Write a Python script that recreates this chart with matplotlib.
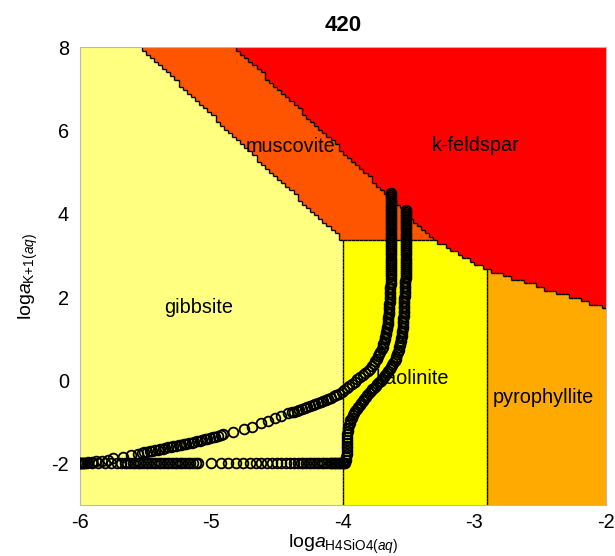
import numpy as np
import matplotlib
matplotlib.use("Agg")
import matplotlib.pyplot as plt
from matplotlib.path import Path
from matplotlib.colors import ListedColormap
from matplotlib.collections import LineCollection

plt.rcParams['font.family'] = ['Liberation Sans', 'DejaVu Sans']
plt.rcParams['mathtext.fontset'] = 'custom'
plt.rcParams['mathtext.rm'] = 'Liberation Sans'
plt.rcParams['mathtext.it'] = 'Liberation Sans:italic'
plt.rcParams['axes.unicode_minus'] = False

# ---------------- data ----------------
title = "420"
x_ticks = [-6, -5, -4, -3, -2]
y_ticks = [-2, 0, 2, 4, 6, 8]
x_range = [-6, -2]
y_range = [-3, 8]

minerals = ["gibbsite", "muscovite", "k-feldspar", "kaolinite", "pyrophyllite"]
mineral_colors = ["#FFFF80", "#FF5500", "#FF0000", "#FFFF00", "#FFAA00"]
# stability field outlines (vertices)
gibbsite_poly = [(-6, -3), (-4.0, -3), (-4.0, 3.35), (-5.535, 8), (-6, 8)]
muscovite_poly = [(-5.535, 8), (-4.817, 8), (-3.3, 3.35), (-4.0, 3.35)]
kfeldspar_poly = [(-4.817, 8), (-2, 8), (-2, 1.74), (-2.92, 2.67), (-3.3, 3.35)]
kaolinite_poly = [(-4.0, -3), (-2.92, -3), (-2.92, 2.67), (-3.3, 3.35), (-4.0, 3.35)]
pyrophyllite_poly = [(-2.92, -3), (-2, -3), (-2, 1.74), (-2.92, 2.67)]
label_x = [-5.095, -4.40, -2.99, -3.47, -2.475]
label_y = [1.75, 5.63, 5.65, 0.04, -0.42]

# path A (lower path): flat part at constant log aK
pathA_flat_level = -1.98
pathA_flat_x = [-6.00, -5.99, -5.98, -5.97, -5.95, -5.91, -5.86, -5.81, -5.76, -5.72,
                -5.69, -5.66, -5.64, -5.62, -5.60, -5.58, -5.56, -5.54, -5.52, -5.50,
                -5.48, -5.46, -5.44, -5.42, -5.40, -5.38, -5.36, -5.34, -5.32, -5.30,
                -5.28, -5.26, -5.24, -5.22, -5.20, -5.18, -5.16, -5.14, -5.12, -5.10,
                -5.00, -4.93, -4.87, -4.81, -4.76, -4.71, -4.66, -4.62, -4.58, -4.54,
                -4.50, -4.47, -4.43, -4.40, -4.37, -4.34, -4.32, -4.30, -4.28, -4.26,
                -4.24, -4.22, -4.20, -4.18, -4.16, -4.14, -4.12, -4.10, -4.09, -4.08,
                -4.07, -4.06, -4.05, -4.04, -4.03, -4.02, -4.01, -4.00, -3.99, -3.98]
pathA_rise_x = [-3.975, -3.973, -3.972, -3.971, -3.970, -3.969, -3.968, -3.967, -3.966, -3.965,
                -3.962, -3.958, -3.954, -3.949, -3.942, -3.934, -3.925, -3.915, -3.905, -3.894,
                -3.883, -3.872, -3.861, -3.850, -3.838, -3.826, -3.814, -3.801, -3.789, -3.776,
                -3.763, -3.750, -3.738, -3.725, -3.712, -3.700, -3.688, -3.676, -3.665, -3.654,
                -3.643, -3.633, -3.624, -3.615, -3.607, -3.599, -3.592, -3.586, -3.580, -3.575,
                -3.570, -3.566, -3.562, -3.558, -3.555, -3.552, -3.549, -3.547, -3.545, -3.543,
                -3.541, -3.540, -3.539, -3.538, -3.537, -3.536, -3.535, -3.534, -3.534, -3.533,
                -3.532, -3.531, -3.530, -3.529, -3.528, -3.528, -3.527, -3.526]
pathA_rise_y = [-1.92, -1.85, -1.78, -1.71, -1.64, -1.57, -1.50, -1.43, -1.36, -1.29,
                -1.22, -1.15, -1.08, -1.02, -0.96, -0.90, -0.84, -0.79, -0.74, -0.69,
                -0.64, -0.59, -0.54, -0.49, -0.44, -0.40, -0.35, -0.31, -0.26, -0.22,
                -0.18, -0.13, -0.09, -0.05, -0.01, 0.03, 0.08, 0.12, 0.17, 0.22,
                0.27, 0.32, 0.37, 0.42, 0.47, 0.52, 0.57, 0.63, 0.68, 0.73,
                0.79, 0.84, 0.90, 0.95, 1.01, 1.07, 1.13, 1.19, 1.25, 1.31,
                1.37, 1.43, 1.49, 1.55, 1.61, 1.67, 1.73, 1.79, 1.85, 1.91,
                1.97, 2.03, 2.09, 2.15, 2.21, 2.27, 2.33, 2.39]
pathA_column_x = -3.522
pathA_column_y = [2.45, 2.50, 2.55, 2.60, 2.65, 2.70, 2.75, 2.80, 2.85, 2.90,
                  2.95, 3.00, 3.05, 3.10, 3.15, 3.20, 3.25, 3.30, 3.35, 3.40,
                  3.45, 3.50, 3.55, 3.60, 3.65, 3.70, 3.75, 3.80, 3.85, 3.90,
                  3.95, 4.00, 4.05, 4.10]

# path B (upper path)
pathB_x = [-6.00, -5.99, -5.98, -5.96, -5.94, -5.91, -5.875, -5.835, -5.79, -5.747,
           -5.676, -5.615, -5.557,
           -5.53, -5.51, -5.49, -5.47, -5.45, -5.43, -5.41, -5.39, -5.37, -5.35,
           -5.33, -5.31, -5.29, -5.27, -5.25, -5.23, -5.21, -5.19, -5.17, -5.15,
           -5.13, -5.11, -5.09, -5.07, -5.05, -5.03, -5.01, -4.99, -4.97, -4.95,
           -4.93, -4.91,
           -4.836, -4.755, -4.689, -4.626, -4.571, -4.520, -4.469, -4.419,
           -4.39, -4.37, -4.35, -4.33, -4.31, -4.29, -4.27, -4.25, -4.23, -4.21,
           -4.19, -4.17, -4.15, -4.13, -4.11, -4.09, -4.07, -4.05, -4.03, -4.01,
           -3.99, -3.97, -3.95, -3.93, -3.91, -3.89, -3.87, -3.85, -3.83, -3.81,
           -3.795, -3.78, -3.765, -3.752, -3.742, -3.733, -3.724, -3.715, -3.706, -3.698,
           -3.691, -3.685, -3.680, -3.676, -3.672, -3.669, -3.666, -3.663, -3.660, -3.658,
           -3.656, -3.654, -3.652, -3.650, -3.649, -3.648, -3.646, -3.645, -3.644, -3.643,
           -3.641, -3.640, -3.639, -3.638, -3.637, -3.636, -3.635]
pathB_y = [-1.99, -1.99, -1.985, -1.98, -1.97, -1.96, -1.95, -1.935, -1.91, -1.88,
           -1.84, -1.805, -1.77,
           -1.745, -1.733, -1.720, -1.707, -1.694, -1.681, -1.668, -1.655, -1.642, -1.629,
           -1.616, -1.603, -1.590, -1.577, -1.564, -1.551, -1.538, -1.525, -1.512, -1.499,
           -1.486, -1.470, -1.455, -1.440, -1.424, -1.407, -1.390, -1.372, -1.354, -1.335,
           -1.316, -1.297,
           -1.24, -1.18, -1.12, -1.04, -0.98, -0.92, -0.86, -0.80,
           -0.775, -0.755, -0.738, -0.720, -0.698, -0.675, -0.652, -0.628, -0.605, -0.582,
           -0.556, -0.530, -0.503, -0.476, -0.449, -0.420, -0.390, -0.357, -0.32, -0.28,
           -0.235, -0.19, -0.14, -0.09, -0.04, 0.02, 0.07, 0.12, 0.17, 0.22,
           0.28, 0.34, 0.40, 0.46, 0.52, 0.58, 0.64, 0.69, 0.75, 0.81,
           0.87, 0.93, 0.99, 1.05, 1.11, 1.17, 1.23, 1.29, 1.35, 1.41,
           1.47, 1.53, 1.59, 1.65, 1.71, 1.77, 1.83, 1.89, 1.95, 2.01,
           2.07, 2.13, 2.19, 2.25, 2.31, 2.37, 2.43]
pathB_column_x = -3.634
pathB_column_y = [2.50, 2.55, 2.60, 2.65, 2.70, 2.75, 2.80, 2.85, 2.90, 2.95,
                  3.00, 3.05, 3.10, 3.15, 3.20, 3.25, 3.30, 3.35, 3.40, 3.45,
                  3.50, 3.55, 3.60, 3.65, 3.70, 3.75, 3.80, 3.85, 3.90, 3.95,
                  4.00, 4.05, 4.10, 4.15, 4.20, 4.25, 4.30, 4.35, 4.40, 4.45,
                  4.50]

# ---------------- figure ----------------
fig = plt.figure(figsize=(6.15, 5.56), dpi=100)
ax = fig.add_axes([0.130, 0.0917, 0.855, 0.823])

# rasterised stability fields (grid like the original solver output)
nx, ny = 128, 128
xe = np.linspace(x_range[0], x_range[1], nx + 1)
ye = np.linspace(y_range[0], y_range[1], ny + 1)
xc = 0.5 * (xe[:-1] + xe[1:])
yc = 0.5 * (ye[:-1] + ye[1:])
XX, YY = np.meshgrid(xc, yc)
pts = np.column_stack([XX.ravel(), YY.ravel()])
labels = np.full(XX.size, 2)
for k, poly in enumerate([gibbsite_poly, muscovite_poly, kfeldspar_poly,
                          kaolinite_poly, pyrophyllite_poly]):
    if k == 2:
        continue
    inside = Path(poly).contains_points(pts)
    labels[inside] = k
labels = labels.reshape(XX.shape)

ax.pcolormesh(xe, ye, labels, cmap=ListedColormap(mineral_colors),
              vmin=-0.5, vmax=4.5, shading='flat', zorder=0)

segs = []
diff_h = labels[:, 1:] != labels[:, :-1]
for i, j in zip(*np.nonzero(diff_h)):
    segs.append([(xe[j + 1], ye[i]), (xe[j + 1], ye[i + 1])])
diff_v = labels[1:, :] != labels[:-1, :]
for i, j in zip(*np.nonzero(diff_v)):
    segs.append([(xe[j], ye[i + 1]), (xe[j + 1], ye[i + 1])])
ax.add_collection(LineCollection(segs, colors='black', linewidths=1.0, zorder=1))

for name, lx, ly in zip(minerals, label_x, label_y):
    ax.text(lx, ly, name, ha='center', va='center', fontsize=14.3, color='black', zorder=2)

mk = dict(linestyle='none', marker='o', mfc='none', mec='black', ms=7.0, mew=1.3, zorder=3)
ax.plot(pathA_flat_x, np.full(len(pathA_flat_x), pathA_flat_level), **mk)
ax.plot(pathA_rise_x, pathA_rise_y, **mk)
ax.plot(np.full(len(pathA_column_y), pathA_column_x), pathA_column_y, **mk)
ax.plot(pathB_x, pathB_y, **mk)
ax.plot(np.full(len(pathB_column_y), pathB_column_x), pathB_column_y, **mk)

ax.set_xlim(x_range)
ax.set_ylim(y_range)
ax.set_xticks(x_ticks)
ax.set_xticklabels([str(t) for t in x_ticks])
ax.set_yticks(y_ticks)
ax.set_yticklabels([str(t) for t in y_ticks])
ax.tick_params(axis='x', length=0, labelsize=14.3, pad=6)
ax.tick_params(axis='y', length=0, labelsize=14.3, pad=8)
for s in ax.spines.values():
    s.set_color('#b8b8b8')
    s.set_linewidth(0.8)

ax.set_title(title, fontsize=16, fontweight='bold', pad=12)
ax.set_xlabel(r'$\mathrm{log}a_{\mathrm{H4SiO4}(aq)}$', fontsize=14, labelpad=0)
ax.set_ylabel(r'$\mathrm{log}a_{\mathrm{K}{+}\mathrm{1}(aq)}$', fontsize=14, labelpad=8)

fig.savefig("out.png", dpi=100)
